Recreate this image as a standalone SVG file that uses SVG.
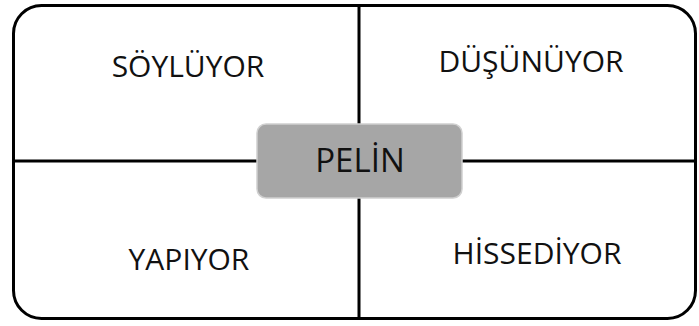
<svg xmlns="http://www.w3.org/2000/svg" width="699" height="326" viewBox="0 0 699 326">
<style>
.lbl{font-family:"Open Sans","Noto Sans",sans-serif;font-size:30px;fill:#111;text-anchor:middle}
.ln{stroke:#000;stroke-width:3;fill:none}
</style>
<rect x="0" y="0" width="699" height="326" fill="#fff"/>
<g id="connectors">
<rect class="ln" x="13.5" y="5.5" width="682" height="313" rx="28"/>
<line class="ln" x1="359" y1="5" x2="359" y2="319"/>
<line class="ln" x1="13" y1="161" x2="696" y2="161"/>
</g>
<g id="soyluyor"><text class="lbl" x="188" y="77">SÖYLÜYOR</text></g>
<g id="dusunuyor"><text class="lbl" x="531" y="72">DÜŞÜNÜYOR</text></g>
<g id="yapiyor"><text class="lbl" x="189" y="270">YAPIYOR</text></g>
<g id="hissediyor"><text class="lbl" x="537" y="264">HİSSEDİYOR</text></g>
<g id="pelin">
<rect x="257" y="124" width="205" height="74" rx="9" fill="#a6a6a6" stroke="#d0d0d0" stroke-width="1.5"/>
<text class="lbl" x="360" y="172" style="font-size:33px">PELİN</text>
</g>
</svg>
